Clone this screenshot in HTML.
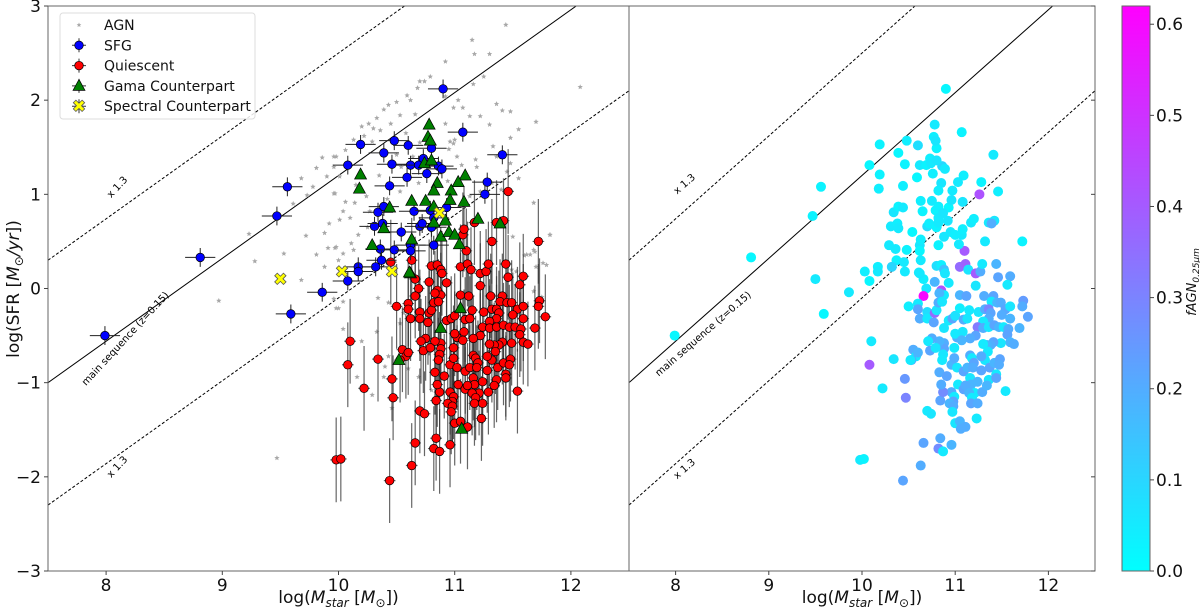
<!DOCTYPE html>
<html><head><meta charset="utf-8"><style>
html,body{margin:0;padding:0;background:#fff;}
svg{display:block;font-family:"DejaVu Sans","Liberation Sans",sans-serif;}
</style></head><body>
<svg id="chart" width="1200" height="610" viewBox="0 0 1200 610" xmlns="http://www.w3.org/2000/svg">
<defs>
<linearGradient id="cool" x1="0" y1="1" x2="0" y2="0">
<stop offset="0" stop-color="#00ffff"/><stop offset="1" stop-color="#ff00ff"/>
</linearGradient>
</defs>
<g id="layer"></g>
</svg>
<script>
// ---------- data ----------
const xTicks=[8,9,10,11,12];
const yTicks=[-3,-2,-1,0,1,2,3];
const cbTicks=[0.0,0.1,0.2,0.3,0.4,0.5,0.6];
const cbTickLabels=["0.0","0.1","0.2","0.3","0.4","0.5","0.6"];
const msSlope=0.88, msIntercept=-1.0, msOffset=1.3; // y = slope*(x-7.5)+intercept

const sfgX=[7.99,8.81,9.47,9.56,9.86,9.59,10.90,11.07,11.41,10.19,10.48,10.60,10.39,10.08,10.46,10.62,10.69,10.73,10.80,10.86,10.89,10.76,10.59,10.44,11.28,11.26,10.34,10.39,10.31,10.38,10.65,10.54,10.70,10.72,10.79,10.82,10.93,10.80,10.36,10.48,10.62,10.62,10.37,10.32,10.17,10.17,10.82,10.08];
const sfgY=[-0.50,0.33,0.77,1.08,-0.04,-0.27,2.12,1.66,1.42,1.53,1.57,1.52,1.44,1.31,1.32,1.31,1.31,1.38,1.49,1.30,1.27,1.22,1.18,1.09,1.13,1.00,0.81,0.87,0.66,0.69,0.82,0.60,0.66,0.69,0.83,0.75,0.86,0.65,0.42,0.41,0.46,0.40,0.30,0.23,0.23,0.18,0.46,0.08];
const sfgF=[0.02,0.02,0.03,0.03,0.05,0.02,0.02,0.03,0.05,0.03,0.04,0.08,0.02,0.02,0.03,0.05,0.03,0.04,0.03,0.10,0.05,0.04,0.02,0.04,0.03,0.42,0.06,0.03,0.05,0.04,0.03,0.02,0.08,0.04,0.03,0.05,0.02,0.03,0.05,0.03,0.06,0.02,0.03,0.10,0.04,0.05,0.03,0.02];

const qX=[11.32,11.72,11.07,11.10,10.80,10.85,10.88,10.89,10.93,10.78,10.66,10.63,10.69,10.66,10.60,10.60,10.50,10.62,10.70,10.70,10.77,10.78,10.80,10.82,10.85,10.88,10.83,10.86,10.93,10.97,11.00,11.02,11.00,11.05,11.12,11.15,11.09,11.13,11.05,11.11,11.14,11.22,11.27,11.29,11.44,11.46,11.59,11.56,11.22,11.31,11.41,11.39,11.45,11.49,11.54,11.59,11.50,11.59,11.73,11.72,11.78,11.69,11.25,11.32,11.36,11.38,11.36,11.30,11.24,11.30,11.36,11.42,11.47,11.52,11.57,11.56,11.59,11.63,11.49,11.41,11.38,11.34,11.30,11.22,11.16,11.08,11.07,10.99,10.88,10.88,10.87,10.83,10.75,10.71,10.73,10.79,10.55,10.58,10.60,10.53,10.34,10.10,10.08,10.22,10.46,10.47,10.83,10.86,10.91,10.96,11.02,10.99,11.03,11.09,11.13,11.16,11.18,11.20,11.19,11.16,11.17,11.09,11.11,11.21,11.24,11.28,11.29,11.32,11.35,11.37,11.28,11.42,11.44,11.48,11.47,11.36,11.34,11.44,11.54,10.96,10.99,10.98,10.94,10.98,10.97,10.84,10.87,10.85,11.15,11.18,11.17,11.24,11.23,11.00,11.05,11.11,10.70,10.74,10.66,10.84,10.82,10.87,10.96,10.63,10.44,9.98,10.02,11.46,11.36,11.42,11.17,11.08,10.45];
const qY=[0.50,0.50,0.57,0.40,0.24,0.25,0.20,0.16,0.06,0.07,0.10,0.30,0.00,-0.08,-0.16,-0.22,-0.19,-0.32,-0.25,-0.32,-0.36,-0.26,-0.23,-0.15,-0.02,-0.07,-0.05,-0.14,-0.34,-0.32,-0.29,-0.52,-0.48,-0.07,-0.08,-0.23,-0.33,-0.32,0.23,0.26,0.20,0.16,0.18,0.26,0.26,0.12,0.13,0.04,0.03,-0.08,-0.08,-0.14,-0.15,-0.15,-0.22,-0.19,-0.28,-0.32,-0.13,-0.19,-0.30,-0.42,-0.25,-0.22,-0.22,-0.26,-0.32,-0.35,-0.41,-0.42,-0.41,-0.39,-0.41,-0.41,-0.43,-0.49,-0.57,-0.59,-0.58,-0.57,-0.60,-0.60,-0.59,-0.50,-0.53,-0.46,-0.55,-0.63,-0.58,-0.64,-0.70,-0.56,-0.53,-0.56,-0.66,-0.63,-0.65,-0.72,-0.68,-0.76,-0.75,-0.56,-0.81,-1.06,-0.96,-1.16,-0.89,-0.76,-0.93,-0.81,-0.84,-0.74,-1.02,-0.88,-0.84,-0.71,-0.74,-0.79,-0.84,-0.95,-1.02,-1.07,-1.03,-1.11,-0.99,-0.87,-1.10,-0.76,-0.67,-0.84,-0.72,-0.79,-0.91,-0.75,-0.81,-0.97,-1.03,-0.95,-1.09,-1.10,-1.15,-1.20,-1.22,-1.25,-1.31,-1.19,-1.10,-1.02,-1.11,-1.16,-1.22,-1.22,-1.38,-1.43,-1.41,-1.47,-1.30,-1.33,-1.64,-1.59,-1.70,-1.73,-1.66,-1.88,-2.04,-1.82,-1.81,1.03,0.70,0.72,0.70,0.63,0.28];
const qF=[0.05,0.03,0.05,0.40,0.08,0.04,0.15,0.06,0.05,0.18,0.04,0.05,0.06,0.60,0.05,0.22,0.04,0.20,0.08,0.05,0.22,0.36,0.06,0.20,0.42,0.05,0.18,0.06,0.05,0.22,0.07,0.20,0.05,0.18,0.22,0.05,0.20,0.06,0.36,0.38,0.06,0.40,0.20,0.05,0.18,0.22,0.20,0.05,0.06,0.20,0.22,0.05,0.18,0.20,0.22,0.06,0.20,0.18,0.24,0.20,0.22,0.18,0.06,0.20,0.30,0.22,0.20,0.05,0.32,0.20,0.06,0.22,0.18,0.05,0.20,0.22,0.18,0.20,0.06,0.22,0.20,0.18,0.05,0.22,0.20,0.06,0.18,0.05,0.20,0.22,0.06,0.18,0.20,0.05,0.22,0.06,0.20,0.05,0.18,0.22,0.06,0.05,0.40,0.05,0.25,0.30,0.20,0.05,0.22,0.18,0.06,0.20,0.05,0.22,0.18,0.20,0.05,0.22,0.20,0.06,0.18,0.22,0.20,0.05,0.18,0.22,0.20,0.06,0.05,0.22,0.20,0.18,0.05,0.22,0.20,0.06,0.18,0.22,0.05,0.20,0.05,0.22,0.18,0.20,0.06,0.22,0.28,0.20,0.18,0.05,0.22,0.20,0.05,0.06,0.18,0.20,0.05,0.06,0.22,0.20,0.28,0.05,0.18,0.20,0.22,0.05,0.03,0.04,0.05,0.06,0.05,0.04,0.05,0.06];

const gamaX=[10.78,10.77,10.79,10.19,10.18,10.74,10.80,11.09,11.03,10.85,10.82,10.97,10.96,10.63,10.75,11.08,10.44,10.82,10.39,10.92,10.82,11.20,11.39,10.29,10.63,10.88,10.95,11.00,11.04,10.62,10.61,11.05,10.88,10.52,11.06];
const gamaY=[1.74,1.61,1.57,1.21,1.06,1.33,1.36,1.20,1.13,1.12,1.04,1.04,0.94,0.93,0.93,0.92,0.86,0.87,0.64,0.72,0.70,0.74,0.69,0.46,0.52,0.55,0.60,0.57,0.47,0.16,0.17,-0.21,-0.42,-0.76,-1.49];
const gamaF=[0.05,0.04,0.06,0.03,0.04,0.05,0.06,0.04,0.05,0.06,0.04,0.05,0.06,0.04,0.05,0.06,0.05,0.04,0.05,0.06,0.05,0.04,0.20,0.05,0.04,0.06,0.05,0.04,0.05,0.06,0.05,0.04,0.06,0.05,0.20];

const specX=[9.50,10.03,10.46,10.87];
const specY=[0.10,0.18,0.18,0.80];
const specF=[0.05,0.04,0.05,0.06];

const agnX=[11.44,11.15,11.17,11.30,10.92,11.25,10.70,10.74,10.79,11.16,10.59,10.62,10.68,10.50,10.92,11.03,10.99,11.07,11.36,11.41,11.48,12.08,11.70,11.55,11.48,11.30,11.13,11.22,10.92,10.96,10.99,10.95,10.39,10.33,10.43,10.53,10.26,10.20,10.36,10.29,10.13,10.06,9.98,9.96,10.01,9.97,10.06,10.14,10.04,10.01,10.10,10.50,10.54,10.64,11.02,11.06,11.19,11.18,11.33,11.36,11.48,11.45,11.55,11.32,11.22,11.68,11.82,11.68,11.62,11.76,11.70,10.24,10.27,9.97,10.04,10.11,10.53,10.69,10.94,11.13,9.23,9.28,9.53,8.97,9.68,9.72,9.47,9.61,9.68,9.73,9.78,9.81,9.86,9.90,9.96,9.96,9.88,9.92,9.81,9.88,9.91,9.98,10.00,11.82,11.79,11.75,11.68,11.69,11.65,11.53,11.49,10.04,10.20,10.16,10.29,10.40,10.39,10.43,10.33,10.34,10.43,10.53,10.56,10.00,9.96,10.04,9.98,10.13,10.17,10.69,10.60,10.80,10.46,10.22,10.30,10.45,10.58,10.66,10.15,10.35,10.55,10.25,10.42,10.70,11.50,11.60,11.40,10.90,11.00,11.10];
const agnY=[2.80,2.64,2.49,2.49,2.41,2.25,2.20,2.20,2.25,2.17,2.05,2.00,2.13,1.98,2.04,2.00,1.92,1.92,1.96,1.89,1.88,2.14,1.77,1.69,1.60,1.74,1.83,1.83,1.75,1.56,1.54,1.48,1.90,1.81,1.95,1.84,1.75,1.72,1.68,1.56,1.58,1.47,1.40,1.29,1.19,1.01,0.92,0.91,0.82,0.73,0.75,1.42,1.29,1.40,1.40,1.31,1.29,1.37,1.51,1.40,1.33,1.24,1.17,1.12,1.03,0.91,0.57,0.41,0.36,0.27,0.23,0.98,0.82,0.43,0.37,0.48,1.03,1.12,1.14,0.98,0.58,0.29,0.37,-0.13,0.09,0.56,-1.80,0.90,1.17,0.99,1.08,1.28,1.39,1.19,1.40,1.01,0.59,0.69,0.36,0.23,0.43,-0.21,0.30,0.57,0.25,-0.09,-0.03,0.39,0.36,0.18,0.20,-0.43,-0.56,-0.94,-1.13,-0.83,-0.94,-0.72,-0.46,-0.10,-0.15,-0.37,-0.26,-0.21,-0.11,-0.14,0.44,0.41,0.57,-0.94,-0.85,-1.08,-1.27,1.62,1.70,1.75,1.65,1.85,1.10,1.20,0.60,0.65,0.95,1.55,0.55,0.35,1.05,0.85,1.58];

// ---------- geometry ----------
const L={x0:48,x1:629}, R={x0:629,x1:1095}, Y0=6, Y1=571;
const xmin=7.5,xmax=12.5,ymin=-3,ymax=3;
function xs(p,v){return p.x0+(v-xmin)/(xmax-xmin)*(p.x1-p.x0);}
function ys(v){return Y1-(v-ymin)/(ymax-ymin)*(Y1-Y0);}
const CB={x0:1122,x1:1150,vmax:0.62};
function cbY(v){return Y1-v/CB.vmax*(Y1-Y0);}
function cool(v){const t=Math.max(0,Math.min(1,v/CB.vmax));return `rgb(${Math.round(255*t)},${Math.round(255*(1-t))},255)`;}

const NS="http://www.w3.org/2000/svg";
const layer=document.getElementById('layer');
function mk(tag,attrs,parent){const e=document.createElementNS(NS,tag);for(const k in attrs)e.setAttribute(k,attrs[k]);(parent||layer).appendChild(e);return e;}

function clip(id,p){const c=mk('clipPath',{id:id},document.querySelector('defs'));mk('rect',{x:p.x0,y:Y0,width:p.x1-p.x0,height:Y1-Y0},c);}
clip('clipL',L);clip('clipR',R);

function msLine(x,o){return msSlope*(x-xmin)+msIntercept+o;}
function drawLines(p,clipId,panelName){
  const g=mk('g',{'clip-path':`url(#${clipId})`});
  
  
  const offs=[0,msOffset,-msOffset];
  offs.forEach((o,i)=>{
    const l=mk('line',{x1:xs(p,xmin),y1:ys(msLine(xmin,o)),x2:xs(p,xmax),y2:ys(msLine(xmax,o)),stroke:'#000','stroke-width':1,'stroke-dasharray':i?'3,2':'none'},g);
    
    
  });
  const ang=-Math.atan(msSlope*(p.x1-p.x0)/(xmax-xmin)/((Y1-Y0)/(ymax-ymin)))*180/Math.PI;
  const right=p===R;
  // [data x, line offset, pixel shift (center), text, name]
  const ann=[[8.1,msOffset,right?-26:-23,'x 1.3','upper-scatter-label'],[8.1,-msOffset,right?14:12,'x 1.3','lower-scatter-label'],[right?8.3:8.17,0,right?18:12,'main sequence (z=0.15)','main-sequence-label']];
  ann.forEach(a=>{
    const X=xs(p,a[0]),Yv=ys(msLine(a[0],a[1]))+a[2];
    const t=mk('text',{x:X,y:Yv,'font-size':10,'text-anchor':'middle','dominant-baseline':'central',transform:`rotate(${ang} ${X} ${Yv})`});
    t.textContent=a[3];
    
    
  });
}
function star(cx,cy,r,fill,parent){
  let pts=[];for(let i=0;i<10;i++){const rr=i%2?r*0.45:r;const a=-Math.PI/2+i*Math.PI/5;pts.push((cx+rr*Math.cos(a)).toFixed(1)+','+(cy+rr*Math.sin(a)).toFixed(1));}
  return mk('polygon',{points:pts.join(' '),fill:fill},parent);
}

// ---------- left panel ----------
drawLines(L,'clipL','left');
const gl=mk('g',{'clip-path':'url(#clipL)'});


agnX.forEach((x,i)=>{const s=star(xs(L,x),ys(agnY[i]),2.8,'#a8a8a8',gl);
  
  });
const qYErr=0.45,qXErr=0.05,sfgYErr=0.1,sfgXErr=0.13;
qX.forEach((x,i)=>{const X=xs(L,x),Yv=ys(qY[i]);const s=(Y1-Y0)/(ymax-ymin);
  const e=mk('path',{d:`M${X},${Yv-qYErr*s}V${Yv+qYErr*s}M${X-qXErr*116.2},${Yv}H${X+qXErr*116.2}`,stroke:'#333','stroke-width':1.2,'stroke-opacity':0.75},gl);
  
  });
qX.forEach((x,i)=>{const c=mk('circle',{cx:xs(L,x),cy:ys(qY[i]),r:4.3,fill:'#ff0000',stroke:'#000','stroke-width':0.7},gl);
  
  });
sfgX.forEach((x,i)=>{const X=xs(L,x),Yv=ys(sfgY[i]);const s=(Y1-Y0)/(ymax-ymin);
  const e=mk('path',{d:`M${X},${Yv-sfgYErr*s}V${Yv+sfgYErr*s}M${X-sfgXErr*116.2},${Yv}H${X+sfgXErr*116.2}`,stroke:'#222','stroke-width':1},gl);
  
  
  const c=mk('circle',{cx:X,cy:Yv,r:4.3,fill:'#0000ff',stroke:'#000','stroke-width':0.7},gl);
  
  });
gamaX.forEach((x,i)=>{const X=xs(L,x),Yv=ys(gamaY[i]);
  const t=mk('polygon',{points:`${X},${Yv-6.5} ${X-6},${Yv+4.5} ${X+6},${Yv+4.5}`,fill:'#008000',stroke:'#000','stroke-width':0.7},gl);
  
  });
specX.forEach((x,i)=>{const X=xs(L,x),Yv=ys(specY[i]);
  const t=mk('text',{x:X,y:Yv+6,'font-size':17,'font-weight':'bold','text-anchor':'middle',fill:'#ffff00',stroke:'#555','stroke-width':0.8},gl);
  t.textContent='✖';
  
  });

// ---------- right panel ----------
drawLines(R,'clipR','right');
const gr=mk('g',{'clip-path':'url(#clipR)'});


[[sfgX,sfgY,sfgF],[qX,qY,qF],[gamaX,gamaY,gamaF],[specX,specY,specF]].forEach(set=>{
  set[0].forEach((x,i)=>{const c=mk('circle',{cx:xs(R,x),cy:ys(set[1][i]),r:5,fill:cool(set[2][i])},gr);
    
    });
});

// ---------- axes ----------
[L,R].forEach((p,pi)=>{
  const f=mk('rect',{x:p.x0,y:Y0,width:p.x1-p.x0,height:Y1-Y0,fill:'none',stroke:'#666','stroke-width':1});
  
  
  xTicks.forEach(v=>{const X=xs(p,v);
    mk('line',{x1:X,y1:Y1,x2:X,y2:Y1+4,stroke:'#444'});
    const t=mk('text',{x:X,y:Y1+20,'font-size':17,'text-anchor':'middle',fill:'#111'});t.textContent=v;
    
    });
  yTicks.forEach(v=>{const Yv=ys(v);
    if(pi===0){mk('line',{x1:p.x0-4,y1:Yv,x2:p.x0,y2:Yv,stroke:'#444'});
      const t=mk('text',{x:p.x0-7,y:Yv+6,'font-size':17,'text-anchor':'end',fill:'#111'});t.textContent=(v<0?'−'+(-v):v);
      
      }
    else{mk('line',{x1:p.x1-4,y1:Yv,x2:p.x1,y2:Yv,stroke:'#444'});}
  });
  const xl=mk('text',{x:(p.x0+p.x1)/2,y:603,'font-size':17,'text-anchor':'middle',fill:'#111'});
  xl.innerHTML='log(<tspan font-style="italic">M</tspan><tspan font-style="italic" font-size="12" dy="4">star</tspan><tspan dy="-4"> [</tspan><tspan font-style="italic">M</tspan><tspan font-size="12" dy="4">⊙</tspan><tspan dy="-4">])</tspan>';
  
  
});
const yl=mk('text',{x:0,y:0,'font-size':17,'text-anchor':'middle',fill:'#111',transform:'translate(19 289) rotate(-90)'});
yl.innerHTML='log(SFR [<tspan font-style="italic">M</tspan><tspan font-size="12" dy="4">⊙</tspan><tspan dy="-4" font-style="italic">/yr</tspan>])';



// ---------- colorbar ----------
const cb=mk('rect',{x:CB.x0,y:Y0,width:CB.x1-CB.x0,height:Y1-Y0,fill:'url(#cool)',stroke:'#666','stroke-width':1});


cbTicks.forEach((v,i)=>{const Yv=cbY(v);
  mk('line',{x1:CB.x1,y1:Yv,x2:CB.x1+4,y2:Yv,stroke:'#444'});
  const t=mk('text',{x:CB.x1+6,y:Yv+6,'font-size':17,fill:'#111'});t.textContent=cbTickLabels[i];
  
  });
const cbl=mk('text',{x:0,y:0,'font-size':13,'text-anchor':'middle',fill:'#111',transform:'translate(1196 282) rotate(-90)'});
cbl.innerHTML='<tspan font-style="italic">fAGN</tspan><tspan font-size="9" dy="3" font-style="italic">0.25μm</tspan>';



// ---------- legend ----------
const lg=mk('g',{});


mk('rect',{x:60,y:13,width:195,height:106,rx:3,fill:'#fff','fill-opacity':0.85,stroke:'#ddd'},lg);
const entries=['AGN','SFG','Quiescent','Gama Counterpart','Spectral Counterpart'];
entries.forEach((name,i)=>{const Yv=25+i*20.3,X=79;
  const eg=mk('g',{},lg);
  
  
  if(i===0) star(X,Yv,2.5,'#a8a8a8',eg);
  else{
    mk('path',{d:`M${X-7},${Yv}H${X+7}M${X},${Yv-7}V${Yv+7}`,stroke:'#333','stroke-width':1},eg);
    if(i===1) mk('circle',{cx:X,cy:Yv,r:4.3,fill:'#0000ff',stroke:'#000','stroke-width':0.7},eg);
    if(i===2) mk('circle',{cx:X,cy:Yv,r:4.3,fill:'#ff0000',stroke:'#000','stroke-width':0.7},eg);
    if(i===3) mk('polygon',{points:`${X},${Yv-6.5} ${X-6},${Yv+4.5} ${X+6},${Yv+4.5}`,fill:'#008000',stroke:'#000','stroke-width':0.7},eg);
    if(i===4){const t=mk('text',{x:X,y:Yv+6,'font-size':17,'font-weight':'bold','text-anchor':'middle',fill:'#ffff00',stroke:'#555','stroke-width':0.8},eg);t.textContent='✖';}
  }
  const t=mk('text',{x:104,y:Yv+5,'font-size':14,fill:'#111'},eg);t.textContent=name;
});
</script>
</body></html>
